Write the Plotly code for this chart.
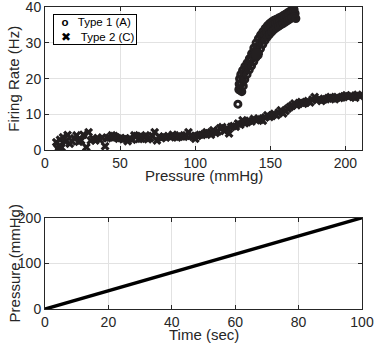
import plotly.graph_objects as go

# Type 1 (A) afferent: pressure (mmHg) vs firing rate (Hz)
type1_pressure = [
    128.4,
    129.0, 129.2, 129.5, 130.3, 131.5, 133.0, 134.5, 136.0, 137.5, 139.0,
    140.5, 142.0, 143.5, 145.0, 146.5, 148.0, 149.5, 151.0, 152.5, 154.0,
    155.5, 157.0, 158.5, 160.0, 161.5, 163.0, 164.5, 165.8,
    129.8, 130.5, 131.5, 132.5, 134.0, 135.5, 137.0, 138.5, 140.0, 141.5,
    143.0, 144.5, 146.0, 147.5, 149.0, 150.5, 152.0, 153.5, 155.0, 156.5,
    158.0, 159.5, 161.0, 162.5, 164.0, 165.5, 166.5,
    131.0, 132.0, 133.0, 134.5, 136.0, 137.5, 139.0, 140.5, 142.0, 143.5,
    145.0, 146.5, 148.0, 149.5, 151.0, 152.5, 154.0, 155.5, 157.0, 158.5,
    160.0, 161.5, 163.0, 164.5, 166.0, 167.0,
]
type1_rate = [
    12.9,
    17.0, 18.5, 20.0, 21.2, 22.3, 23.4, 24.4, 25.6, 27.0, 28.6,
    30.0, 31.2, 32.2, 33.1, 34.0, 34.8, 35.4, 35.9, 36.3, 36.6,
    36.9, 37.2, 37.6, 38.0, 38.4, 38.8, 39.1, 39.3,
    16.8, 18.5, 20.2, 21.6, 22.8, 24.0, 25.2, 26.5, 27.8, 29.0,
    30.2, 31.3, 32.3, 33.2, 34.0, 34.6, 35.1, 35.5, 35.9, 36.2,
    36.6, 37.0, 37.4, 37.8, 38.2, 38.5, 38.2,
    16.4, 18.0, 19.8, 21.2, 22.5, 23.6, 24.8, 26.0, 27.2, 28.4,
    29.6, 30.7, 31.6, 32.4, 33.1, 33.7, 34.2, 34.6, 35.0, 35.4,
    35.8, 36.2, 36.6, 37.0, 37.2, 36.8,
]
# heavy overlap spot in the type 1 cloud
type1_cluster_pressure = [141.0]
type1_cluster_rate = [26.8]

# Type 2 (C) afferent
type2_pressure = [
    7.5, 8.5, 9.5, 10.0, 11.0, 12.0, 13.5, 15.0, 16.5, 18.0,
    19.5, 21.0, 22.5, 24.0, 25.5, 27.5, 29.0, 30.5, 32.0, 33.5,
    35.0, 36.5, 38.0, 40.0, 41.5, 43.0, 44.5, 46.0, 47.5, 49.0,
    50.5, 52.0, 53.5, 55.0, 56.5, 58.0, 59.5, 61.0, 62.5, 64.0,
    65.5, 67.0, 68.5, 70.0, 71.5, 73.0, 74.5, 76.0, 77.5, 79.0,
    80.5, 82.0, 83.5, 85.0, 86.5, 88.0, 89.5, 91.0, 92.5, 94.0,
    95.5, 97.0, 98.5, 100.0, 101.5, 103.0, 104.5, 106.0, 107.5, 109.0,
    110.5, 112.0, 113.5, 115.0, 116.5, 118.0, 119.5, 121.0, 122.5, 124.0,
    125.5, 127.0, 128.5, 130.0, 131.5, 133.0, 134.5, 136.0, 137.5, 139.0,
    140.5, 142.0, 143.5, 145.0, 146.5, 148.0, 149.5, 151.0, 152.5, 154.0,
    155.5, 157.0, 158.5, 160.0, 161.5, 163.0, 164.5, 166.0, 167.5, 169.0,
    170.5, 172.0, 173.5, 175.0, 176.5, 178.0, 179.5, 181.0, 182.5, 184.0,
    185.5, 187.0, 188.5, 190.0, 191.5, 193.0, 194.5, 196.0, 197.5, 199.0,
    200.5, 202.0, 203.5, 205.0, 206.5, 208.0, 209.5,
]
type2_rate = [
    2.3, 0.5, 1.2, 3.0, 0.8, 3.7, 2.5, 4.3, 1.9, 2.6,
    3.4, 4.2, 2.4, 2.8, 4.4, 0.9, 5.1, 2.8, 3.3, 2.8,
    3.5, 3.0, 3.6, 1.2, 3.4, 3.6, 4.2, 4.0, 3.6, 3.3,
    3.5, 3.1, 3.3, 2.6, 3.4, 3.0, 4.2, 4.0, 3.2, 3.3,
    3.8, 4.2, 3.1, 3.5, 4.0, 5.1, 2.8, 3.9, 3.4, 3.8,
    3.6, 4.0, 3.7, 4.4, 3.8, 3.6, 4.2, 3.9, 3.8, 4.2,
    5.1, 4.1, 3.8, 3.3, 4.0, 4.4, 4.3, 4.6, 5.1, 4.8,
    4.4, 5.6, 4.9, 5.3, 6.2, 6.5, 5.4, 6.2, 4.7, 6.6,
    6.8, 6.6, 7.5, 7.2, 8.4, 7.6, 7.9, 8.3, 8.1, 8.8,
    8.4, 8.9, 8.6, 8.3, 9.2, 9.8, 9.3, 9.6, 10.2, 9.8,
    10.6, 11.2, 10.3, 11.0, 11.6, 12.1, 12.5, 13.1, 12.6, 13.2,
    13.5, 13.0, 13.3, 13.8, 13.4, 14.2, 14.9, 14.0, 14.4, 13.8,
    14.2, 14.3, 14.6, 14.9, 14.5, 14.3, 14.9, 14.6, 14.8, 15.1,
    15.4, 14.9, 15.3, 15.0, 14.7, 15.5, 15.2,
]

# pressure ramp
ramp_time = [0, 100]
ramp_pressure = [0, 200]

legend_labels = ["Type 1 (A)", "Type 2 (C)"]
legend_glyphs = ["<b>o</b>", "✖"]

ink = "#231f20"
font = "Liberation Sans, Arial, sans-serif"

fig = go.Figure()
fig.add_trace(go.Scatter(
    x=type1_pressure, y=type1_rate, mode="markers", name=legend_labels[0],
    marker=dict(symbol="circle-open", size=6, color=ink, line=dict(width=3, color=ink)),
    xaxis="x", yaxis="y"))
fig.add_trace(go.Scatter(
    x=type1_cluster_pressure, y=type1_cluster_rate, mode="markers",
    marker=dict(symbol="circle", size=12, color=ink),
    xaxis="x", yaxis="y"))
fig.add_trace(go.Scatter(
    x=type2_pressure, y=type2_rate, mode="markers", name=legend_labels[1],
    marker=dict(symbol="x", size=8, color=ink, line=dict(width=0)),
    xaxis="x", yaxis="y"))
fig.add_trace(go.Scatter(
    x=ramp_time, y=ramp_pressure, mode="lines",
    line=dict(color="black", width=3.5),
    xaxis="x2", yaxis="y2"))

axis_common = dict(
    showline=True, linecolor="#262626", linewidth=1, mirror="ticks",
    ticks="inside", ticklen=4, tickcolor="#262626",
    showgrid=True, gridcolor="#e2e2e2", gridwidth=1, zeroline=False,
    automargin=False, ticklabeloverflow="allow",
    tickfont=dict(size=14, color="#262626", family=font),
)

fig.update_layout(
    width=374, height=346,
    margin=dict(l=45, r=12, t=7, b=37),
    plot_bgcolor="white", paper_bgcolor="white",
    font=dict(family=font, color="#262626"),
    showlegend=False,
    xaxis=dict(domain=[0, 1], anchor="y", range=[0, 211], dtick=50, **axis_common),
    yaxis=dict(domain=[0.525, 1], anchor="x", range=[0, 40], dtick=10, **axis_common),
    xaxis2=dict(domain=[0, 1], anchor="y2", range=[0, 100], dtick=20, **axis_common),
    yaxis2=dict(domain=[0, 0.302], anchor="x2", range=[0, 200], dtick=100, **axis_common),
)

# axis titles placed as annotations so they sit where the original has them
title_font = dict(size=15, color="#262626", family=font)
for xa, ya, xt, yt in [("x", "y", "Pressure (mmHg)", "Firing Rate (Hz)"),
                       ("x2", "y2", "Time (sec)", "Pressure (mmHg)")]:
    fig.add_annotation(text=xt, xref=xa + " domain", yref=ya + " domain",
                       x=0.5, y=0, yshift=-25, xanchor="center", yanchor="middle",
                       showarrow=False, font=title_font)
    fig.add_annotation(text=yt, xref=xa + " domain", yref=ya + " domain",
                       x=0, y=0.5, xshift=-31, xanchor="center", yanchor="middle",
                       textangle=-90, showarrow=False, font=title_font)

# compact boxed legend as one bordered annotation, top-left of the upper panel
legend_text = "<br>".join("  " + g + "   " + lab for g, lab in zip(legend_glyphs, legend_labels))
fig.add_annotation(text=legend_text, xref="paper", yref="paper", x=0, y=1,
                   xshift=8, yshift=-7, xanchor="left", yanchor="top", align="left",
                   bgcolor="white", bordercolor="black", borderwidth=1, borderpad=1,
                   showarrow=False, font=dict(size=11.5, color="black", family=font))

fig.write_html("out.html", config={"displayModeBar": False},
               post_script="document.body.style.margin='0px';")
